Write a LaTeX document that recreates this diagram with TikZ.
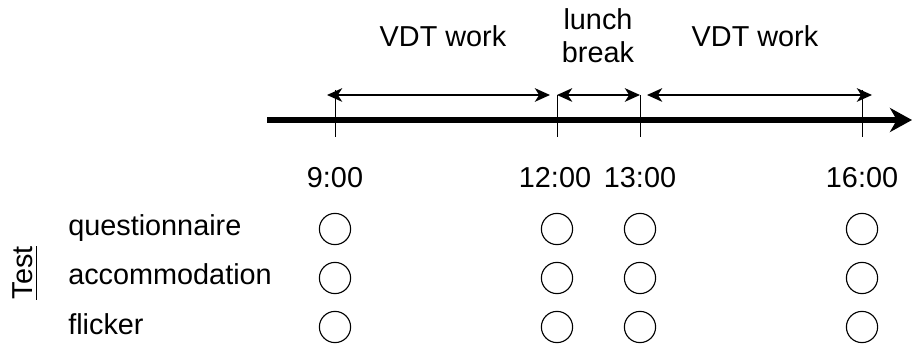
\documentclass[tikz,border=0pt]{standalone}
\usepackage{fontspec}
\setmainfont{Liberation Sans}
\usetikzlibrary{arrows.meta}

\begin{document}
\begin{tikzpicture}[x=0.025cm,y=-0.025cm]
\tikzstyle{every node}+=[inner sep=0pt,font=\fontsize{20.5}{24.1}\selectfont]
\tikzstyle{span}=[line width=1.2pt,{Stealth[length=0.38cm,width=0.34cm,inset=0.11cm]}-{Stealth[length=0.38cm,width=0.34cm,inset=0.11cm]}]
\tikzstyle{tick}=[line width=0.7pt]
\tikzstyle{slot}=[circle,draw,line width=0.8pt,minimum size=0.78cm]
\useasboundingbox (0,0) rectangle (912,346);
\coordinate (axisstart) at (267,120);
\coordinate (axisend) at (912,120);
\draw [line width=4.2pt,-{Stealth[length=0.55cm,width=0.6cm,inset=0.17cm]}] (axisstart) -- (axisend);
\coordinate (ta) at (335,90);
\coordinate (tb) at (557,95);
\coordinate (tc) at (640,95);
\coordinate (td) at (862,90);
\coordinate (ba) at (335,137);
\coordinate (bb) at (557,137);
\coordinate (bc) at (640,137);
\coordinate (bd) at (862,137);
\draw [tick] (ta) -- (ba);
\draw [tick] (tb) -- (bb);
\draw [tick] (tc) -- (bc);
\draw [tick] (td) -- (bd);
\coordinate (s1a) at (327,95);
\coordinate (s1b) at (550,95);
\coordinate (s2a) at (557,95);
\coordinate (s2b) at (640,95);
\coordinate (s3a) at (647,95);
\coordinate (s3b) at (872,95);
\draw [span] (s1a) -- (s1b);
\draw [span] (s2a) -- (s2b);
\draw [span] (s3a) -- (s3b);
\node [anchor=base] (work1) at (443,47) {VDT work};
\node [anchor=base,align=center] (lunch) at (598,63) {lunch\\break};
\node [anchor=base] (work2) at (755,47) {VDT work};
\node [anchor=base] (h9) at (335,188) {9:00};
\node [anchor=base] (h12) at (555,188) {12:00};
\node [anchor=base] (h13) at (640,188) {13:00};
\node [anchor=base] (h16) at (862,188) {16:00};
\node [anchor=base west] (quest) at (68,236) {questionnaire};
\node [anchor=base west] (accom) at (68,285) {accommodation};
\node [anchor=base west] (flick) at (68,334) {flicker};
\node [rotate=90,anchor=base] (test) at (32,273) {Test};
\draw [line width=0.8pt] ([xshift=0.1cm]test.south west) -- ([xshift=0.1cm]test.south east);
\node [slot] (qa) at (335,229) {};
\node [slot] (qb) at (557,229) {};
\node [slot] (qc) at (640,229) {};
\node [slot] (qd) at (862,229) {};
\node [slot] (aa) at (335,278) {};
\node [slot] (ab) at (557,278) {};
\node [slot] (ac) at (640,278) {};
\node [slot] (ad) at (862,278) {};
\node [slot] (fa) at (335,327) {};
\node [slot] (fb) at (557,327) {};
\node [slot] (fc) at (640,327) {};
\node [slot] (fd) at (862,327) {};
\end{tikzpicture}
\end{document}
